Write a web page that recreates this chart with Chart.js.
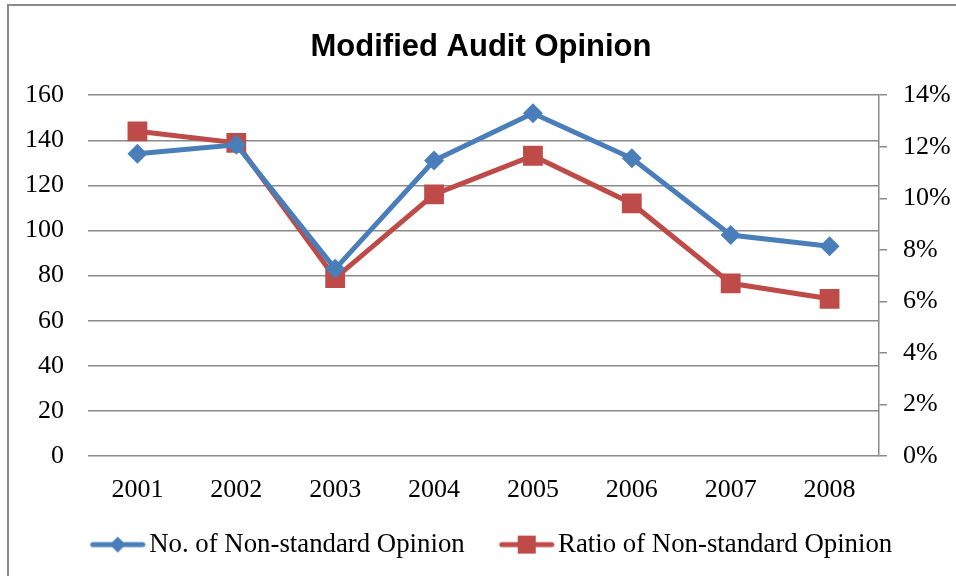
<!DOCTYPE html>
<html>
<head>
<meta charset="utf-8">
<script src="https://cdn.jsdelivr.net/npm/chart.js@4.4.0/dist/chart.umd.min.js"></script>
<style>
  body { margin: 0; background: #fff; }
  #wrap { width: 956px; height: 576px; position: relative; }
</style>
</head>
<body>
<div id="wrap"><canvas id="auditChart" width="956" height="576"></canvas></div>
<script>
const years = ['2001', '2002', '2003', '2004', '2005', '2006', '2007', '2008'];
const nonStandardCount = [134, 138, 83, 131, 152, 132, 98, 93];
const nonStandardRatio = [12.6, 12.15, 6.9, 10.15, 11.65, 9.8, 6.7, 6.1]; // percent
const countTicks = [0, 20, 40, 60, 80, 100, 120, 140, 160];
const ratioTicks = [0, 2, 4, 6, 8, 10, 12, 14];

const blue = '#4a7ebb';
const red = '#be4b48';
const gridGray = '#8a8a8a';
const serif = "'Liberation Serif', 'Times New Roman', serif";

// legend symbol: line with the marker in the middle, like the spreadsheet legend.
// the canvas is wider than the line; the empty left part makes the gap between items
function legendSymbol(color, marker) {
    const c = document.createElement('canvas');
    c.width = 86;
    c.height = 24;
    const g = c.getContext('2d');
    g.strokeStyle = color;
    g.lineWidth = 5;
    g.lineCap = 'round';
    g.beginPath();
    g.moveTo(33, 12);
    g.lineTo(83, 12);
    g.stroke();
    g.fillStyle = color;
    g.beginPath();
    if (marker === 'diamond') {
        g.moveTo(58, 4); g.lineTo(66, 12); g.lineTo(58, 20); g.lineTo(50, 12);
    } else {
        g.rect(49, 3, 18, 18);
    }
    g.closePath();
    g.fill();
    return c;
}

const borderBox = {
    id: 'borderBox',
    afterDraw(chart) {
        const g = chart.ctx;
        g.save();
        g.strokeStyle = '#8a8a8a';
        g.lineWidth = 2;
        g.strokeRect(8, 5, 1200, 1200);
        g.restore();
    }
};

const ctx = document.getElementById('auditChart').getContext('2d');

const chart = new Chart(ctx, {
    type: 'line',
    data: {
        labels: years,
        datasets: [{
            label: 'No. of Non-standard Opinion',
            data: nonStandardCount,
            yAxisID: 'y',
            borderColor: blue,
            backgroundColor: blue,
            borderWidth: 5,
            pointStyle: 'rectRot',
            pointRadius: 10,
            pointHoverRadius: 10,
            pointBorderWidth: 0,
            tension: 0
        }, {
            label: 'Ratio of Non-standard Opinion',
            data: nonStandardRatio,
            yAxisID: 'y2',
            borderColor: red,
            backgroundColor: red,
            borderWidth: 5,
            pointStyle: 'rect',
            pointRadius: 14,
            pointHoverRadius: 14,
            pointBorderWidth: 0,
            tension: 0
        }]
    },
    options: {
        responsive: false,
        animation: false,
        layout: {
            padding: { top: 0, bottom: 8, left: 6, right: 0 }
        },
        scales: {
            x: {
                offset: true,
                grid: { display: false },
                border: { display: false },
                ticks: {
                    color: 'black',
                    font: { family: serif, size: 26 },
                    padding: 11,
                    maxRotation: 0
                }
            },
            y: {
                position: 'left',
                min: 0,
                max: 160,
                afterBuildTicks: (scale) => {
                    scale.ticks = countTicks.map(v => ({ value: v }));
                },
                afterFit: (scale) => { scale.width = 82; },
                grid: {
                    color: gridGray,
                    lineWidth: 1.5,
                    drawTicks: false
                },
                border: { display: false },
                ticks: {
                    color: 'black',
                    font: { family: serif, size: 26 },
                    padding: 24
                }
            },
            y2: {
                position: 'right',
                min: 0,
                max: 14,
                afterBuildTicks: (scale) => {
                    scale.ticks = ratioTicks.map(v => ({ value: v }));
                },
                afterFit: (scale) => { scale.width = 77; },
                grid: {
                    drawOnChartArea: false,
                    color: gridGray,
                    lineWidth: 1.5,
                    tickLength: 8
                },
                border: { display: true, color: gridGray, width: 1.5 },
                ticks: {
                    color: 'black',
                    font: { family: serif, size: 26 },
                    padding: 16,
                    callback: (v) => v + '%'
                }
            }
        },
        plugins: {
            title: {
                display: true,
                text: 'Modified Audit Opinion',
                color: 'black',
                font: { family: "'Liberation Sans', Arial, sans-serif", size: 31, weight: 'bold' },
                padding: { top: 29, bottom: 29 }
            },
            legend: {
                position: 'bottom',
                labels: {
                    color: 'black',
                    font: { family: serif, size: 26.8 },
                    usePointStyle: true,
                    pointStyleWidth: 66,
                    padding: 14,
                    generateLabels: (chart) => {
                        const items = Chart.defaults.plugins.legend.labels.generateLabels(chart);
                        items[0].pointStyle = legendSymbol(blue, 'diamond');
                        items[1].pointStyle = legendSymbol(red, 'square');
                        return items;
                    }
                }
            },
            tooltip: { enabled: false }
        }
    },
    plugins: [borderBox]
});
</script>
</body>
</html>
